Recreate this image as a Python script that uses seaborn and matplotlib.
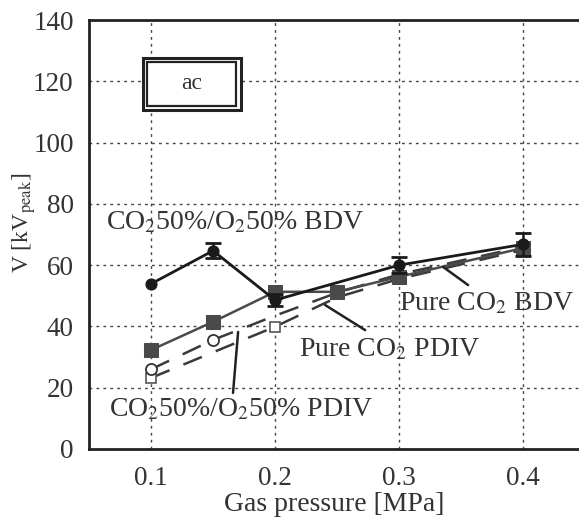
import numpy as np
import pandas as pd
import matplotlib
matplotlib.use("Agg")
import matplotlib.pyplot as plt
from matplotlib.patches import Rectangle
import seaborn as sns

# data
p_mix_bdv = [0.1, 0.15, 0.2, 0.3, 0.4]
v_mix_bdv = [53.9, 64.7, 48.6, 60.0, 66.8]
e_mix_bdv = [0.0, 2.5, 2.0, 2.5, 3.8]

p_co2_bdv = [0.1, 0.15, 0.2, 0.25, 0.3, 0.4]
v_co2_bdv = [32.3, 41.5, 51.3, 51.3, 56.2, 65.6]

p_mix_pdiv = [0.1, 0.15, 0.2, 0.25, 0.3, 0.4]
v_mix_pdiv = [26.0, 35.6, 43.5, 51.0, 57.0, 66.0]

p_co2_pdiv = [0.1, 0.2, 0.25, 0.3, 0.4]
v_co2_pdiv = [23.2, 39.9, 49.5, 55.5, 65.0]

x_ticks = [0.1, 0.2, 0.3, 0.4]
y_ticks = [0, 20, 40, 60, 80, 100, 120, 140]

sns.set_style("white")
plt.rcParams['font.family'] = ['Liberation Serif', 'DejaVu Serif']
plt.rcParams['mathtext.fontset'] = 'stix'

fig = plt.figure(figsize=(5.79, 5.2), dpi=100)
ax = fig.add_axes([89/579, 71/520, 490/579, 429/520])

grid_kw = dict(color='#444444', lw=1.0, ls=(0, (2, 3)), zorder=0)
for y in y_ticks[1:-1]:
    ax.axhline(y, **grid_kw)
for x in x_ticks:
    ax.axvline(x, **grid_kw)

# dashed PDIV lines
sns.lineplot(x=p_co2_pdiv, y=v_co2_pdiv, ax=ax, color='#3a3a3a', lw=1.8,
             linestyle=(0, (8, 6)), zorder=2)
sns.lineplot(x=p_mix_pdiv, y=v_mix_pdiv, ax=ax, color='#3a3a3a', lw=1.8,
             linestyle=(0, (8, 6)), zorder=2)
ax.plot(p_co2_pdiv[:2], v_co2_pdiv[:2], ls='none', marker='s', ms=7,
        mfc='white', mec='#555555', mew=1.2, zorder=3)
ax.plot(p_mix_pdiv[:2], v_mix_pdiv[:2], ls='none', marker='o', ms=8,
        mfc='white', mec='#333333', mew=1.3, zorder=3)

# solid BDV lines
sns.lineplot(x=p_co2_bdv, y=v_co2_bdv, ax=ax, color='#4a4a4a', lw=1.8,
             marker='s', markersize=10, markeredgecolor='#4a4a4a', zorder=4)
sns.lineplot(x=p_mix_bdv, y=v_mix_bdv, ax=ax, color='#1a1a1a', lw=2.0,
             marker='o', markersize=8, markeredgecolor='#1a1a1a', zorder=5)
eb = [i for i, e in enumerate(e_mix_bdv) if e > 0]
ax.errorbar([p_mix_bdv[i] for i in eb], [v_mix_bdv[i] for i in eb],
            yerr=[e_mix_bdv[i] for i in eb], fmt='none', ecolor='#1a1a1a',
            capsize=6, capthick=2, elinewidth=1.8, zorder=5)

ax.set_xlim(0.05, 0.445)
ax.set_ylim(0, 140)
ax.set_xticks(x_ticks)
ax.set_xticklabels([str(t) for t in x_ticks])
ax.set_yticks(y_ticks)
ax.tick_params(axis='both', direction='in', width=2, colors='#222222',
               labelsize=19.5, labelcolor='#333333')
ax.tick_params(axis='y', length=26, pad=11)
ax.tick_params(axis='x', length=20, pad=12)
for side in ['left', 'bottom', 'top']:
    ax.spines[side].set_linewidth(2)
    ax.spines[side].set_color('#222222')
ax.spines['right'].set_visible(False)

ax.set_xlabel('Gas pressure [MPa]', fontsize=20, color='#333333')
ax.xaxis.set_label_coords(0.5, -0.1)
ax.set_ylabel(r'V [kV$_{\rm peak}$]', fontsize=17, color='#333333')
ax.yaxis.set_label_coords(-0.104, 0.527)

lab_kw = dict(fontsize=20, color='#333333', va='center')
ax.text(0.064, 74, r'CO$_2$50%/O$_2$50% BDV', **lab_kw)
ax.text(0.3, 47.5, r'Pure CO$_2$ BDV', **lab_kw)
ax.text(0.219, 32.5, r'Pure CO$_2$ PDIV', **lab_kw)
ax.text(0.0665, 12.8, r'CO$_2$50%/O$_2$50% PDIV', **lab_kw)

line_kw = dict(color='#222222', lw=1.8, zorder=6)
ax.plot([0.3355, 0.3556], [59.4, 53.5], **line_kw)
ax.plot([0.2403, 0.2726], [47.0, 38.8], **line_kw)
ax.plot([0.1702, 0.1661], [38.2, 18.3], **line_kw)

# double-framed "ac" box
ax.add_patch(Rectangle((0.110, 0.790), 0.200, 0.121, transform=ax.transAxes,
                       fill=True, fc='white', ec='#222222', lw=2.2, zorder=7))
ax.add_patch(Rectangle((0.119, 0.800), 0.182, 0.101, transform=ax.transAxes,
                       fill=False, ec='#222222', lw=1.6, zorder=8))
ax.text(0.21, 0.851, 'ac', transform=ax.transAxes, fontsize=17,
        color='#333333', ha='center', va='center', zorder=9)

fig.savefig('out.png', dpi=100)
